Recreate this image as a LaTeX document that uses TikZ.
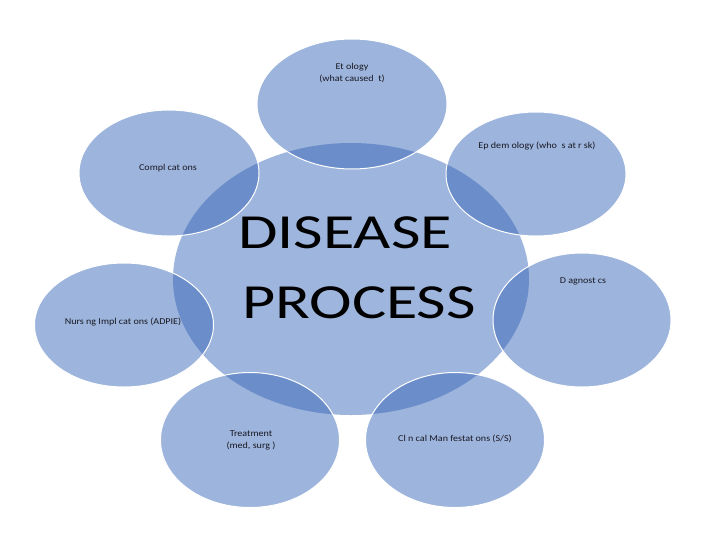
\documentclass[tikz,border=0pt]{standalone}
\usepackage{fontspec}
\usepackage{graphicx}
\setmainfont{Carlito}
\usetikzlibrary{shapes.geometric}
\definecolor{mainfill}{RGB}{158,181,221}
\definecolor{satfill}{RGB}{55,102,185}
\definecolor{txt}{RGB}{25,25,35}
\newcommand{\wide}[1]{\scalebox{1.31}[1]{#1}}
\newcommand{\swide}[1]{\scalebox{1.12}[1]{#1}}
\tikzset{
  central/.style={ellipse, inner sep=0pt, fill=mainfill, draw=none},
  sat/.style={ellipse, inner sep=0pt, fill=satfill, fill opacity=0.485, draw=white, draw opacity=1, line width=1pt},
  small/.style={text=txt, font=\fontsize{9}{12}\selectfont, align=center, inner sep=0pt},
  big/.style={text=black, font=\fontsize{49}{55}\selectfont, inner sep=0pt}
}
\begin{document}
\begin{tikzpicture}[x=1pt,y=-1pt]
\useasboundingbox (0,0) rectangle (714,552);
\fill[white] (0,0) rectangle (714,552);
\node[central, minimum width=356pt, minimum height=272pt] (c) at (351,279) {};
\node[sat, minimum width=190pt, minimum height=130pt] (eti) at (352,104) {};
\node[sat, minimum width=180pt, minimum height=124pt] (epi) at (536,174) {};
\node[sat, minimum width=178pt, minimum height=134pt] (dia) at (582,320) {};
\node[sat, minimum width=179pt, minimum height=135pt] (cli) at (455,440) {};
\node[sat, minimum width=179pt, minimum height=135pt] (tre) at (250,440) {};
\node[sat, minimum width=179pt, minimum height=124pt] (nur) at (124,325) {};
\node[sat, minimum width=180pt, minimum height=126pt] (com) at (169,173) {};
\node[big, anchor=base] (t1) at (345,248) {\wide{DISEASE}};
\node[big, anchor=base] (t2) at (359,318) {\wide{PROCESS}};
\node[small] (l1) at (352,73) {\swide{Et ology}\\\swide{(what caused\ \ t)}};
\node[small] (l2) at (537,146) {\swide{Ep dem ology (who\ \ s at r sk)}};
\node[small] (l3) at (583,281) {\swide{D agnost cs}};
\node[small] (l4) at (455,439) {\swide{Cl n cal Man festat ons (S/S)}};
\node[small] (l5) at (251,440) {\swide{Treatment}\\\swide{(med, surg )}};
\node[small] (l6) at (123,322) {\swide{Nurs ng Impl cat ons (ADPIE)}};
\node[small] (l7) at (168,168) {\swide{Compl cat ons}};
\end{tikzpicture}
\end{document}
